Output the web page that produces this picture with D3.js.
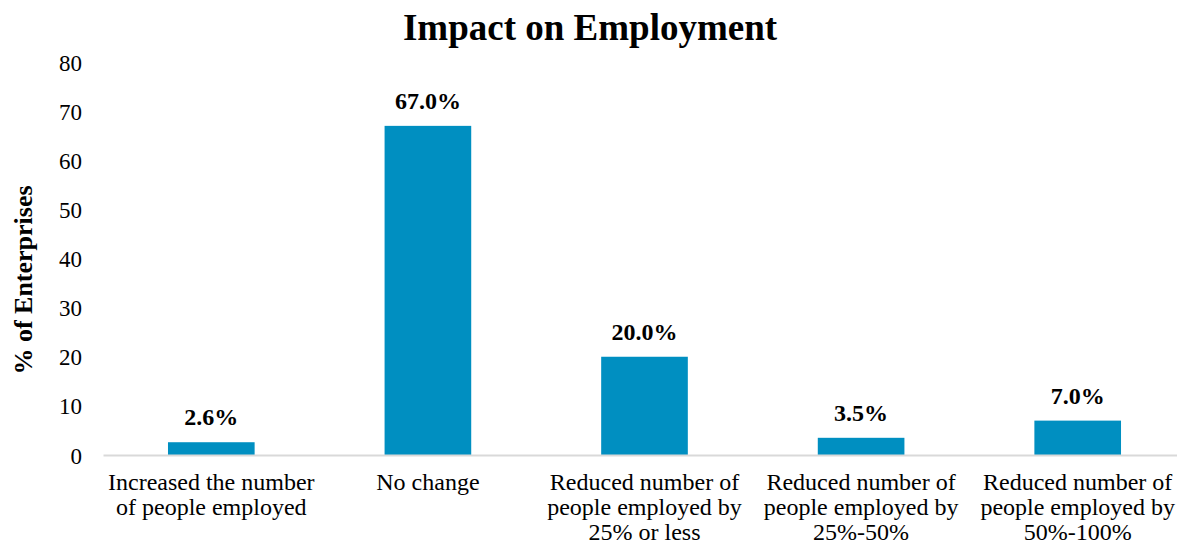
<!DOCTYPE html>
<html>
<head>
<meta charset="utf-8">
<script src="https://cdn.jsdelivr.net/npm/d3@7"></script>
<style>
  html, body { margin: 0; padding: 0; background: #fff; }
  svg { display: block; font-family: "Liberation Serif", "Times New Roman", serif; }
</style>
</head>
<body>
<svg id="chart" width="1177" height="546"></svg>
<script>
// Employment impact categories (each label split into its display lines)
const categories = [
  ["Increased the number", "of people employed"],
  ["No change"],
  ["Reduced number of", "people employed by", "25% or less"],
  ["Reduced number of", "people employed by", "25%-50%"],
  ["Reduced number of", "people employed by", "50%-100%"]
];
const values = [2.6, 67.0, 20.0, 3.5, 7.0];
const yTicks = [0, 10, 20, 30, 40, 50, 60, 70, 80];

const svg = d3.select("#chart");
const margin = { left: 103, right: -9, top: 62, bottom: 91 };
const W = 1177, H = 546;

const x = d3.scaleBand()
  .domain(d3.range(categories.length))
  .range([margin.left, W - margin.right])
  .paddingInner(0.6)
  .paddingOuter(0.3);

const y = d3.scaleLinear()
  .domain([0, 80])
  .range([H - margin.bottom, margin.top]);

// Title
svg.append("text")
  .attr("x", 590)
  .attr("y", 40)
  .attr("text-anchor", "middle")
  .attr("font-size", 37)
  .attr("font-weight", "bold")
  .text("Impact on Employment");

// Y axis (labels only)
const yAxis = d3.axisLeft(y).tickValues(yTicks).tickSize(0).tickPadding(0);
const gy = svg.append("g")
  .attr("transform", "translate(82,0)")
  .call(yAxis);
gy.select(".domain").remove();
gy.selectAll("text")
  .attr("font-size", 23)
  .attr("font-family", "Liberation Serif, Times New Roman, serif")
  .attr("fill", "#000")
  .attr("dy", "0.35em");

// Y axis title
svg.append("text")
  .attr("transform", "translate(32,280) rotate(-90)")
  .attr("text-anchor", "middle")
  .attr("font-size", 26)
  .attr("font-weight", "bold")
  .text("% of Enterprises");

// Bars
svg.append("g").selectAll("rect")
  .data(values)
  .join("rect")
  .attr("x", (d, i) => x(i))
  .attr("y", d => y(d))
  .attr("width", x.bandwidth())
  .attr("height", d => y(0) - y(d))
  .attr("fill", "#008FC1");

// Value labels
svg.append("g").selectAll("text")
  .data(values)
  .join("text")
  .attr("x", (d, i) => x(i) + x.bandwidth() / 2)
  .attr("y", d => y(d) - 17)
  .attr("text-anchor", "middle")
  .attr("font-size", 24)
  .attr("font-weight", "bold")
  .text(d => d.toFixed(1) + "%");

// X axis baseline
const xAxis = d3.axisBottom(x).tickSize(0).tickFormat("");
const gx = svg.append("g")
  .attr("transform", `translate(0,${y(0)})`)
  .call(xAxis);
gx.select(".domain")
  .attr("stroke", "#d9d9d9")
  .attr("stroke-width", 2);

// Category labels
const lab = svg.append("g").selectAll("text")
  .data(categories)
  .join("text")
  .attr("x", (d, i) => x(i) + x.bandwidth() / 2)
  .attr("y", y(0) + 35)
  .attr("text-anchor", "middle")
  .attr("font-size", 24);
lab.selectAll("tspan")
  .data((d, i) => d.map(s => ({ s, i })))
  .join("tspan")
  .attr("x", d => x(d.i) + x.bandwidth() / 2)
  .attr("dy", (d, j) => j === 0 ? 0 : 25)
  .text(d => d.s);
</script>
</body>
</html>
